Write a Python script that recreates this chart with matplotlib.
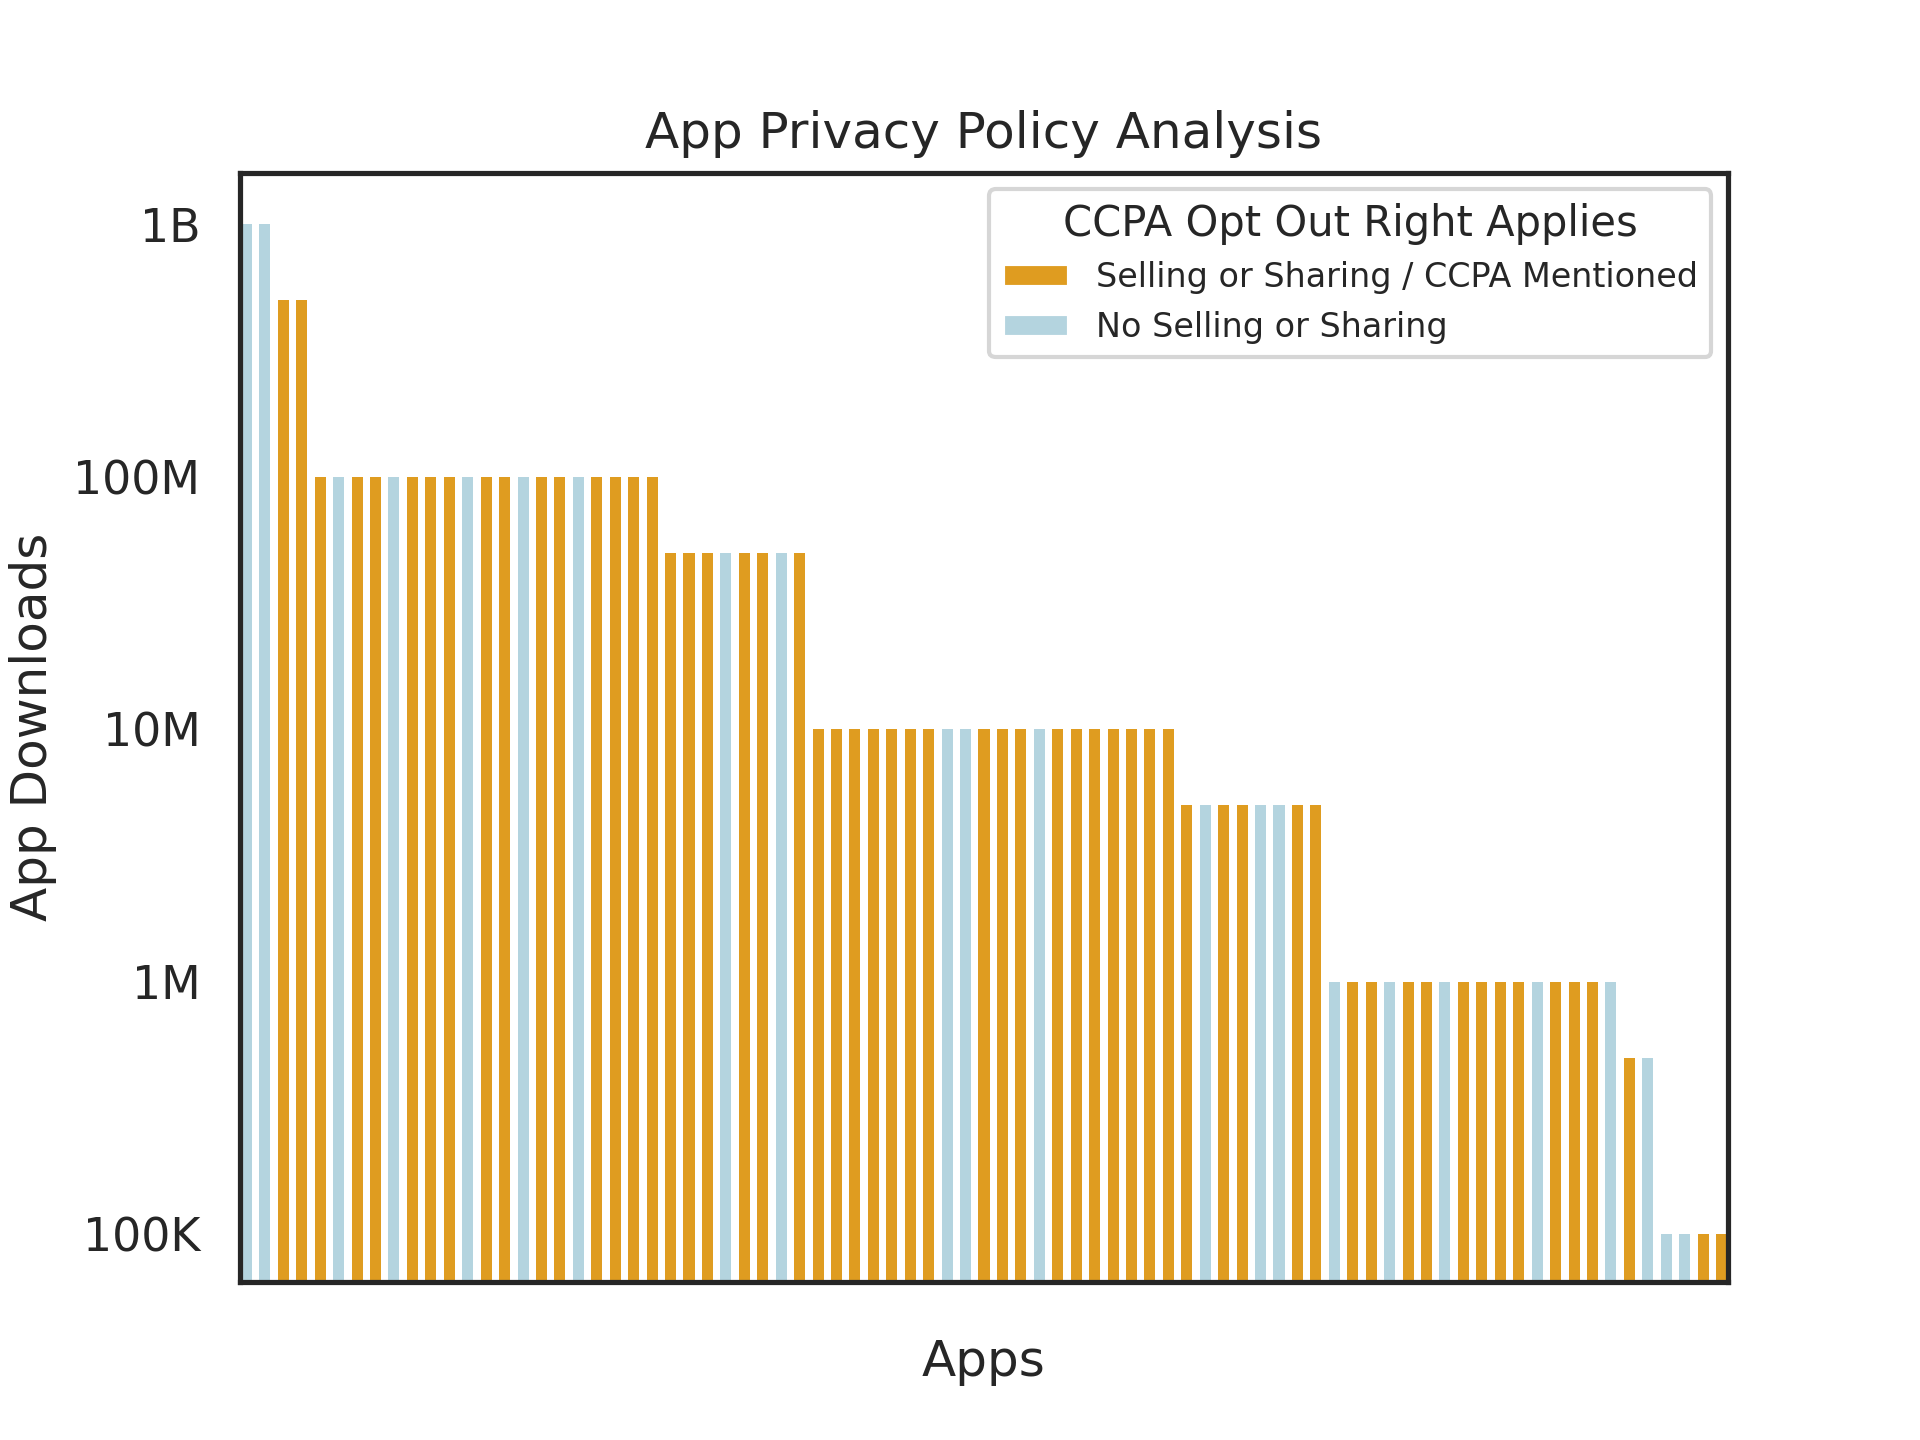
import matplotlib
matplotlib.use("Agg")
import matplotlib.pyplot as plt
import seaborn as sns
from matplotlib.patches import Patch

sns.set_theme(style="white")

# download tier of each group of apps, and the CCPA flag of every app in that group
# S = Selling or Sharing / CCPA Mentioned, N = No Selling or Sharing
tier_downloads = [1e9, 5e8, 1e8, 5e7, 1e7, 5e6, 1e6, 5e5, 1e5]
tier_flags = [
    "NN",
    "SS",
    "SNSSNSSSNSSNSSNSSSS",
    "SSSNSSNS",
    "SSSSSSSNNSSSNSSSSSSS",
    "SNSSNNSS",
    "NSSNSSNSSSSNSSSN",
    "SN",
    "NNSS",
]
ytick_values = [1e5, 1e6, 1e7, 1e8, 1e9]
ytick_labels = ["100K", "1M", "10M", "100M", "1B"]
legend_labels = {"S": "Selling or Sharing / CCPA Mentioned", "N": "No Selling or Sharing"}
colors = {"S": "#DF9C20", "N": "#B4D4DF"}

downloads = []
flags = []
for d, fl in zip(tier_downloads, tier_flags):
    for f in fl:
        downloads.append(d)
        flags.append(f)

fig, ax = plt.subplots(figsize=(6.4, 4.8), dpi=300)
x = list(range(len(downloads)))
ax.bar(x, downloads, width=0.6, color=[colors[f] for f in flags], linewidth=0)
ax.set_yscale("log")
ax.set_ylim(6.5e4, 1.6e9)
ax.set_xlim(-0.35, len(downloads) - 0.65)
ax.set_yticks(ytick_values, labels=ytick_labels)
ax.minorticks_off()
ax.set_xticks([])
ax.set_xlabel("Apps", labelpad=13.5)
ax.set_ylabel("App Downloads")
ax.set_title("App Privacy Policy Analysis")

handles = [Patch(facecolor=colors[k], label=legend_labels[k]) for k in ["S", "N"]]
ax.legend(handles=handles, title="CCPA Opt Out Right Applies", loc="upper right",
          fontsize=8, title_fontsize=10)

plt.savefig("out.png")
